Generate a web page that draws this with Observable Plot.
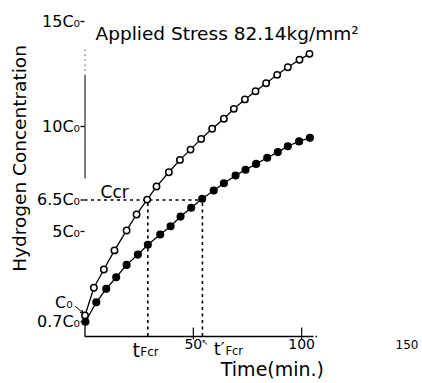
<!DOCTYPE html>
<html><head><meta charset="utf-8">
<script src="https://cdn.jsdelivr.net/npm/d3@7"></script>
<script src="https://cdn.jsdelivr.net/npm/@observablehq/plot@0.6"></script>
<style>body{margin:0;background:#fff} svg{display:block}</style>
</head><body><div id="chart"></div>
<script>
// Open circles (upper curve)
const timeOpen = [0, 4.1, 8.7, 13.6, 19.2, 23.8, 28.7, 33.0, 38.7, 43.8, 48.7, 53.6, 58.7, 64.1, 68.7, 73.8, 78.7, 83.6, 88.7, 93.6, 99.0, 103.6];
const concOpen = [1.0, 2.32, 3.19, 4.10, 5.05, 5.81, 6.52, 7.14, 7.82, 8.41, 8.90, 9.41, 9.89, 10.37, 10.84, 11.29, 11.68, 12.06, 12.46, 12.82, 13.18, 13.46];
// Filled circles (lower curve)
const timeFilled = [0.2, 5.2, 9.8, 14.4, 19.2, 24.4, 29.0, 34.7, 39.5, 44.1, 49.0, 54.1, 59.4, 64.1, 69.5, 74.1, 79.0, 84.1, 89.0, 93.6, 98.8, 103.8];
const concFilled = [0.7, 1.63, 2.27, 2.82, 3.41, 3.90, 4.37, 4.86, 5.25, 5.71, 6.13, 6.56, 6.95, 7.30, 7.67, 7.94, 8.22, 8.51, 8.78, 9.06, 9.29, 9.46];

const yTicks = [0.7, 5, 6.5, 10, 15];
const yTickLabels = ["0.7C₀", "5C₀", "6.5C₀", "10C₀", "15C₀"];
const xTicks = [50, 100];
const xTickLabels = ["50", "100"];
const xFarTick = 150;
const xFarLabel = "150";

const cCr = 6.5;
const tFcr = 29.0;
const tFcrPrime = 54.2;

const openData = timeOpen.map((t, i) => ({t, c: concOpen[i]}));
const filledData = timeFilled.map((t, i) => ({t, c: concFilled[i]}));
const yLab = new Map(yTicks.map((v, i) => [v, yTickLabels[i]]));
const xLab = new Map(xTicks.map((v, i) => [v, xTickLabels[i]]));

const dash = {stroke: "black", strokeWidth: 1.6, strokeDasharray: "3,3.5"};

const chart = Plot.plot({
  width: 422,
  height: 383,
  marginLeft: 84.5,
  marginRight: 12.5,
  marginTop: 21,
  marginBottom: 47,
  style: {fontFamily: "DejaVu Sans", fontSize: "16px", color: "black", background: "white"},
  x: {domain: [0, 150]},
  y: {domain: [0, 15]},
  marks: [
    Plot.axisY(yTicks, {tickFormat: d => yLab.get(d), tickSize: 4, tickPadding: 1, fontSize: 16, label: null, strokeWidth: 1.3}),
    Plot.axisX(xTicks, {tickFormat: d => xLab.get(d), tickSize: 0, tickPadding: 2.5, fontSize: 14, label: null}),
    Plot.text([xFarLabel], {x: [xFarTick], y: [0], text: d => d, dy: 9, dx: -3, fontSize: 12}),
    // axis lines
    Plot.ruleY([0], {x1: 0, x2: 105, stroke: "black", strokeWidth: 1.5}),
    Plot.ruleY([0], {x1: 105, x2: 108, stroke: "black", strokeWidth: 1.5, strokeDasharray: "1.5,2"}),
    Plot.ruleX(xTicks, {x: d => d, y1: -0.15, y2: 0.4, stroke: "black", strokeWidth: 1.2}),
    Plot.ruleX([0], {y1: 7.5, y2: 12.4, stroke: "black", strokeWidth: 1}),
    Plot.ruleX([0], {y1: 12.4, y2: 13.8, stroke: "black", strokeWidth: 1, strokeDasharray: "1,4"}),
    Plot.ruleX([0], {y1: 0, y2: 0.55, stroke: "black", strokeWidth: 1.3}),
    // critical dashed guides
    Plot.ruleY([cCr], {x1: 0, x2: tFcrPrime, ...dash}),
    Plot.ruleX([tFcr, tFcrPrime], {x: d => d, y1: 0, y2: cCr, ...dash}),
    // curves
    Plot.line(openData, {x: "t", y: "c", stroke: "black", strokeWidth: 1.3}),
    Plot.line(filledData, {x: "t", y: "c", stroke: "black", strokeWidth: 1.3}),
    Plot.dot(openData, {x: "t", y: "c", r: 3.2, fill: "white", stroke: "black", strokeWidth: 1.5}),
    Plot.dot(filledData, {x: "t", y: "c", r: 3.3, fill: "black", stroke: "black"}),
    // title
    Plot.text(["Applied Stress 82.14kg/mm²"], {frameAnchor: "top-left", dx: 10.5, dy: 5.5, textAnchor: "start", lineAnchor: "top", fontSize: 18.5}),
    // y label
    Plot.text(["Hydrogen Concentration"], {frameAnchor: "left", textAnchor: "middle", rotate: -90, dx: -64.5, dy: -20.5, fontSize: 18.5}),
    // x label
    Plot.text(["Time(min.)"], {x: [86.5], y: [0], text: d => d, dy: 33, fontSize: 19}),
    // Ccr
    Plot.text(["Ccr"], {x: [7.2], y: [cCr], text: d => d, dy: -7, textAnchor: "start", fontSize: 17}),
    // C0 label with arrow
    Plot.text(["C₀"], {x: [0], y: [1.62], text: d => d, dx: -30, textAnchor: "start", fontSize: 16}),
    Plot.arrow([0], {x1: -4.4, y1: 1.43, x2: -0.9, y2: 1.12, stroke: "black", strokeWidth: 1, headLength: 4}),
    // tFcr labels
    Plot.text(["t"], {x: [tFcr], y: [0], text: d => d, dx: -8, dy: 14, textAnchor: "end", fontSize: 19}),
    Plot.text(["Fcr"], {x: [tFcr], y: [0], text: d => d, dx: -7.5, dy: 16, textAnchor: "start", fontSize: 12}),
    Plot.text(["t′"], {x: [tFcrPrime], y: [0], text: d => d, dx: 22.5, dy: 13, textAnchor: "end", fontSize: 18}),
    Plot.text(["Fcr"], {x: [tFcrPrime], y: [0], text: d => d, dx: 23, dy: 14.5, textAnchor: "start", fontSize: 11.5}),
    Plot.text(["↖"], {x: [tFcrPrime], y: [0], text: d => d, dx: 2.5, dy: 6, fontSize: 8})
  ]
});
document.getElementById("chart").appendChild(chart);
</script>
</body></html>
